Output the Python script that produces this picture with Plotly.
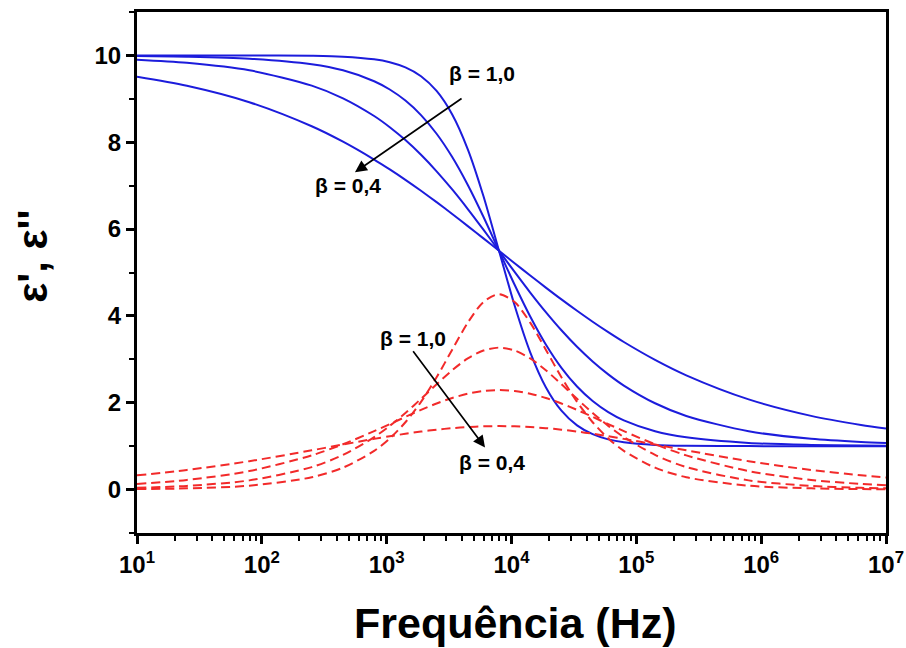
import plotly.graph_objects as go

freq_hz = [10, 25.1, 79.4, 251, 447, 794, 1059, 1413, 1884, 2512, 3350, 4467, 5957, 7943,
           10593, 14125, 18836, 25119, 33497, 44668, 59566, 79433, 141254, 251189,
           794328, 2511886, 6309573, 10000000]

# epsilon' (solid blue), beta = 1.0, 0.8, 0.6, 0.4
eps1_b10 = [10.00, 10.00, 9.999, 9.991, 9.972, 9.911, 9.843, 9.724, 9.521, 9.182, 8.641, 7.838, 6.761, 5.50,
            4.239, 3.162, 2.359, 1.818, 1.479, 1.276, 1.157, 1.089, 1.028, 1.009, 1.001, 1.000, 1.000, 1.000]
eps1_b08 = [9.987, 9.972, 9.926, 9.797, 9.657, 9.406, 9.215, 8.960, 8.626, 8.196, 7.659, 7.015, 6.283, 5.50,
            4.717, 3.985, 3.341, 2.804, 2.374, 2.040, 1.785, 1.594, 1.343, 1.203, 1.074, 1.029, 1.014, 1.009]
eps1_b06 = [9.903, 9.830, 9.657, 9.305, 9.012, 8.604, 8.346, 8.049, 7.711, 7.331, 6.913, 6.462, 5.987, 5.50,
            5.013, 4.538, 4.087, 3.669, 3.289, 2.951, 2.654, 2.396, 1.988, 1.695, 1.343, 1.170, 1.097, 1.074]
eps1_b04 = [9.510, 9.302, 8.923, 8.369, 8.013, 7.601, 7.374, 7.134, 6.882, 6.620, 6.348, 6.069, 5.786, 5.50,
            5.214, 4.931, 4.652, 4.380, 4.118, 3.866, 3.626, 3.399, 2.987, 2.631, 2.077, 1.698, 1.490, 1.409]

# epsilon'' (dashed red), beta = 1.0, 0.8, 0.6, 0.4
eps2_b10 = [0.011, 0.028, 0.090, 0.284, 0.505, 0.891, 1.179, 1.551, 2.021, 2.587, 3.222, 3.845, 4.320, 4.500,
            4.320, 3.845, 3.222, 2.587, 2.021, 1.551, 1.179, 0.891, 0.505, 0.284, 0.090, 0.028, 0.011, 0.007]
eps2_b08 = [0.041, 0.085, 0.212, 0.518, 0.799, 1.208, 1.468, 1.765, 2.090, 2.426, 2.749, 3.021, 3.204, 3.270,
            3.204, 3.021, 2.749, 2.426, 2.090, 1.765, 1.468, 1.208, 0.799, 0.518, 0.212, 0.085, 0.041, 0.028]
eps2_b06 = [0.130, 0.222, 0.426, 0.788, 1.044, 1.346, 1.509, 1.674, 1.835, 1.983, 2.110, 2.209, 2.271, 2.293,
            2.271, 2.209, 2.110, 1.983, 1.835, 1.674, 1.509, 1.346, 1.044, 0.788, 0.426, 0.222, 0.130, 0.099]
eps2_b04 = [0.328, 0.452, 0.654, 0.904, 1.038, 1.168, 1.229, 1.286, 1.336, 1.380, 1.415, 1.441, 1.457, 1.462,
            1.457, 1.441, 1.415, 1.380, 1.336, 1.286, 1.229, 1.168, 1.038, 0.904, 0.654, 0.452, 0.328, 0.278]

x_tick_vals = [1e1, 1e2, 1e3, 1e4, 1e5, 1e6, 1e7]
x_tick_text = ["10<sup>1</sup>", "10<sup>2</sup>", "10<sup>3</sup>", "10<sup>4</sup>",
               "10<sup>5</sup>", "10<sup>6</sup>", "10<sup>7</sup>"]
y_tick_vals = [0, 2, 4, 6, 8, 10]

FONT = "Liberation Sans, Arial, sans-serif"
BLUE = "#1c1cdc"
RED = "#f22a2a"

fig = go.Figure()
for ys in [eps1_b10, eps1_b08, eps1_b06, eps1_b04]:
    fig.add_trace(go.Scatter(x=freq_hz, y=ys, mode="lines",
                             line=dict(color=BLUE, width=2, shape="spline", smoothing=0.8),
                             showlegend=False, hoverinfo="skip"))
for ys in [eps2_b10, eps2_b08, eps2_b06, eps2_b04]:
    fig.add_trace(go.Scatter(x=freq_hz, y=ys, mode="lines",
                             line=dict(color=RED, width=2, dash="9px,5px", shape="spline", smoothing=0.8),
                             showlegend=False, hoverinfo="skip"))

minor_x = [m * 10 ** k for k in range(1, 7) for m in range(2, 10)]

fig.update_xaxes(
    type="log", range=[1, 7], automargin=False,
    tickvals=x_tick_vals, ticktext=x_tick_text,
    ticks="outside", ticklen=8, tickwidth=2.5, tickcolor="black",
    minor=dict(tickvals=minor_x, ticks="outside", ticklen=5, tickwidth=2, tickcolor="black"),
    showline=True, linewidth=3, linecolor="black", mirror=True,
    showgrid=False, zeroline=False,
    tickfont=dict(family=FONT, size=24, color="black", weight="bold"),
)
fig.update_yaxes(
    range=[-1, 11], automargin=False,
    tickvals=y_tick_vals,
    ticks="outside", ticklen=8, tickwidth=2.5, tickcolor="black",
    minor=dict(dtick=1, ticks="outside", ticklen=5, tickwidth=2, tickcolor="black"),
    showline=True, linewidth=3, linecolor="black", mirror=True,
    showgrid=False, zeroline=False,
    tickfont=dict(family=FONT, size=24, color="black", weight="bold"),
)

lbl = dict(family=FONT, size=21, color="black", weight="bold")
annotations = [
    dict(x=3.764, y=9.59, xref="x", yref="y", text="β = 1,0", showarrow=False, font=lbl),
    dict(x=2.69, y=7.01, xref="x", yref="y", text="β = 0,4", showarrow=False, font=lbl),
    dict(x=3.211, y=3.49, xref="x", yref="y", text="β = 1,0", showarrow=False, font=lbl),
    dict(x=3.844, y=0.62, xref="x", yref="y", text="β = 0,4", showarrow=False, font=lbl),
    dict(x=2.746, y=7.31, ax=3.612, ay=9.03, xref="x", yref="y", axref="x", ayref="y",
         text="", showarrow=True, arrowhead=2, arrowsize=1.4, arrowwidth=1.7, arrowcolor="black"),
    dict(x=3.788, y=0.97, ax=3.203, ay=3.22, xref="x", yref="y", axref="x", ayref="y",
         text="", showarrow=True, arrowhead=2, arrowsize=1.4, arrowwidth=1.7, arrowcolor="black"),
    # axis titles
    dict(x=-0.139, y=0.532, xref="paper", yref="paper", text="ε', ε''", textangle=-90,
         xanchor="center", yanchor="middle",
         showarrow=False, font=dict(family=FONT, size=42, color="black", weight="bold")),
    dict(x=0.505, y=-0.172, xref="paper", yref="paper", text="Frequência (Hz)",
         xanchor="center", yanchor="middle", borderpad=0,
         showarrow=False, font=dict(family=FONT, size=43, color="black", weight="bold")),
]
fig.update_layout(
    width=906, height=648,
    margin=dict(l=137, r=20, t=12, b=115),
    plot_bgcolor="white", paper_bgcolor="white",
    annotations=annotations,
)

# remove the default page margin so the 906x648 figure fills the window exactly
fig.write_html("out.html",
               config={"displayModeBar": False},
               post_script="document.body.style.margin='0';document.body.style.overflow='hidden';")
